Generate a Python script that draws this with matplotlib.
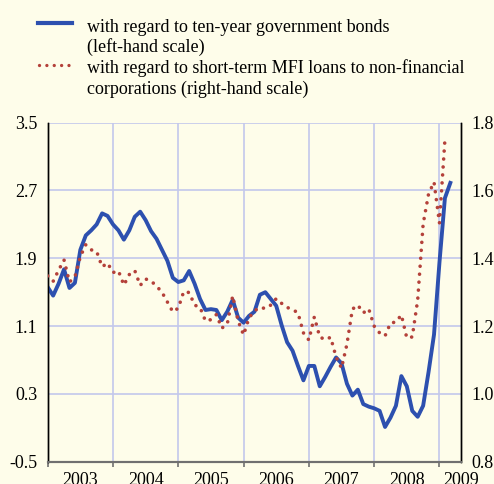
import numpy as np
import pandas as pd
import matplotlib
matplotlib.use('Agg')
import matplotlib.pyplot as plt
from matplotlib.lines import Line2D

# monthly data, Jan 2003 - Mar 2009
gov_bonds = [1.56, 1.46, 1.60, 1.77, 1.55, 1.61, 2.00, 2.17, 2.23, 2.30, 2.43, 2.40,
             2.30, 2.23, 2.12, 2.23, 2.39, 2.45, 2.35, 2.22, 2.13, 2.00, 1.87, 1.67,
             1.62, 1.64, 1.75, 1.60, 1.42, 1.29, 1.30, 1.29, 1.17, 1.27, 1.41, 1.20,
             1.14, 1.22, 1.27, 1.47, 1.50, 1.42, 1.34, 1.11, 0.91, 0.81, 0.63, 0.46,
             0.63, 0.63, 0.39, 0.50, 0.62, 0.73, 0.66, 0.42, 0.28, 0.35, 0.18, 0.15,
             0.13, 0.10, -0.09, 0.02, 0.16, 0.51, 0.39, 0.10, 0.03, 0.16, 0.56, 1.00,
             1.85, 2.61, 2.79]
mfi_loans = [1.348, 1.332, 1.365, 1.395, 1.330, 1.345, 1.405, 1.440, 1.425, 1.420, 1.375, 1.386,
             1.358, 1.363, 1.321, 1.352, 1.364, 1.320, 1.339, 1.333, 1.318, 1.300, 1.271, 1.242,
             1.253, 1.302, 1.299, 1.262, 1.255, 1.215, 1.219, 1.234, 1.194, 1.206, 1.289, 1.215,
             1.174, 1.224, 1.245, 1.255, 1.252, 1.262, 1.281, 1.267, 1.255, 1.249, 1.239, 1.180,
             1.159, 1.227, 1.168, 1.160, 1.167, 1.109, 1.076, 1.147, 1.250, 1.262, 1.239, 1.251,
             1.200, 1.180, 1.171, 1.209, 1.212, 1.233, 1.165, 1.168, 1.277, 1.501, 1.590, 1.625,
             1.504, 1.749]
left_ticks = [-0.5, 0.3, 1.1, 1.9, 2.7, 3.5]
right_ticks = [0.8, 1.0, 1.2, 1.4, 1.6, 1.8]
years = [2003, 2004, 2005, 2006, 2007, 2008, 2009]
label1 = ['with regard to ten-year government bonds', '(left-hand scale)']
label2 = ['with regard to short-term MFI loans to non-financial',
          'corporations (right-hand scale)']

dates = pd.date_range('2003-01-01', periods=len(gov_bonds), freq='MS')
x_gov = dates.year + (dates.month - 1) / 12
x_mfi = x_gov[:len(mfi_loans)]

BG = '#fefdea'
GRID = '#c3c8ec'
BLUE = '#2d50af'
RED = '#b4413a'
W, H = 494, 484
DOTS = (0, (0.01, 2.2))

plt.rcParams['font.family'] = ['Liberation Serif', 'DejaVu Serif']
plt.rcParams['font.size'] = 12

fig = plt.figure(figsize=(W / 100, H / 100), dpi=100, facecolor=BG)
ax = fig.add_axes([47.7 / W, 1 - 461.7 / H, (461 - 47.7) / W, (461.7 - 122.7) / H])
ax.set_facecolor(BG)
ax2 = ax.twinx()

ax.plot(x_gov, gov_bonds, color=BLUE, lw=2.8, solid_joinstyle='round', zorder=3)
ax2.plot(x_mfi, mfi_loans, color=RED, lw=2.6, linestyle=DOTS,
         dash_capstyle='round', zorder=3)

ax.set_xlim(2003, 2009.26)
ax.set_ylim(-0.5, 3.5)
ax2.set_ylim(0.8, 1.8)
ax.set_yticks(left_ticks)
ax.set_yticklabels(['%.1f' % v for v in left_ticks])
ax2.set_yticks(right_ticks)
ax2.set_yticklabels(['%.1f' % v for v in right_ticks])

# grid
for v in left_ticks:
    ax.axhline(v, color=GRID, lw=1.2, zorder=1)
for yr in years[1:]:
    ax.axvline(yr, color=GRID, lw=1.2, zorder=1)

# x axis: year boundary ticks, labels in between
ax.set_xticks(years)
ax.set_xticklabels([])
label_pos = [y + 0.5 for y in years[:-1]] + [2009.33]
ax.set_xticks(label_pos, minor=True)
ax.set_xticklabels([str(y) for y in years], minor=True)
ax.tick_params(axis='x', which='major', length=3.8, width=1.2, color='#707070', direction='out')
ax.tick_params(axis='x', which='minor', length=0, pad=7.5, labelsize=13)
ax.tick_params(axis='y', length=0, pad=7.5, labelsize=13)
ax2.tick_params(axis='y', length=0, pad=7.5, labelsize=13)

for a in (ax, ax2):
    a.spines['top'].set_visible(False)
    a.spines['left'].set_color('black')
    a.spines['right'].set_color('black')
    a.spines['left'].set_linewidth(1.0)
    a.spines['right'].set_linewidth(1.0)
    a.spines['bottom'].set_color('#707070')
    a.spines['bottom'].set_linewidth(1.5)

# legend drawn by hand so the key sits on the first line of each label
def fx(px):
    return px / W

def fy(py):
    return 1 - py / H

fig.add_artist(Line2D([fx(38), fx(72)], [fy(23.3), fy(23.3)], color=BLUE, lw=3.0))
fig.add_artist(Line2D([fx(39), fx(72)], [fy(65), fy(65)], color=RED, lw=2.4,
                      linestyle=DOTS, dash_capstyle='round'))
for text, py in zip(label1 + label2, [31.5, 52, 72.7, 93.5]):
    fig.text(fx(87), fy(py), text, fontsize=13, va='baseline', ha='left')

fig.savefig('out.png', dpi=100, facecolor=BG)
